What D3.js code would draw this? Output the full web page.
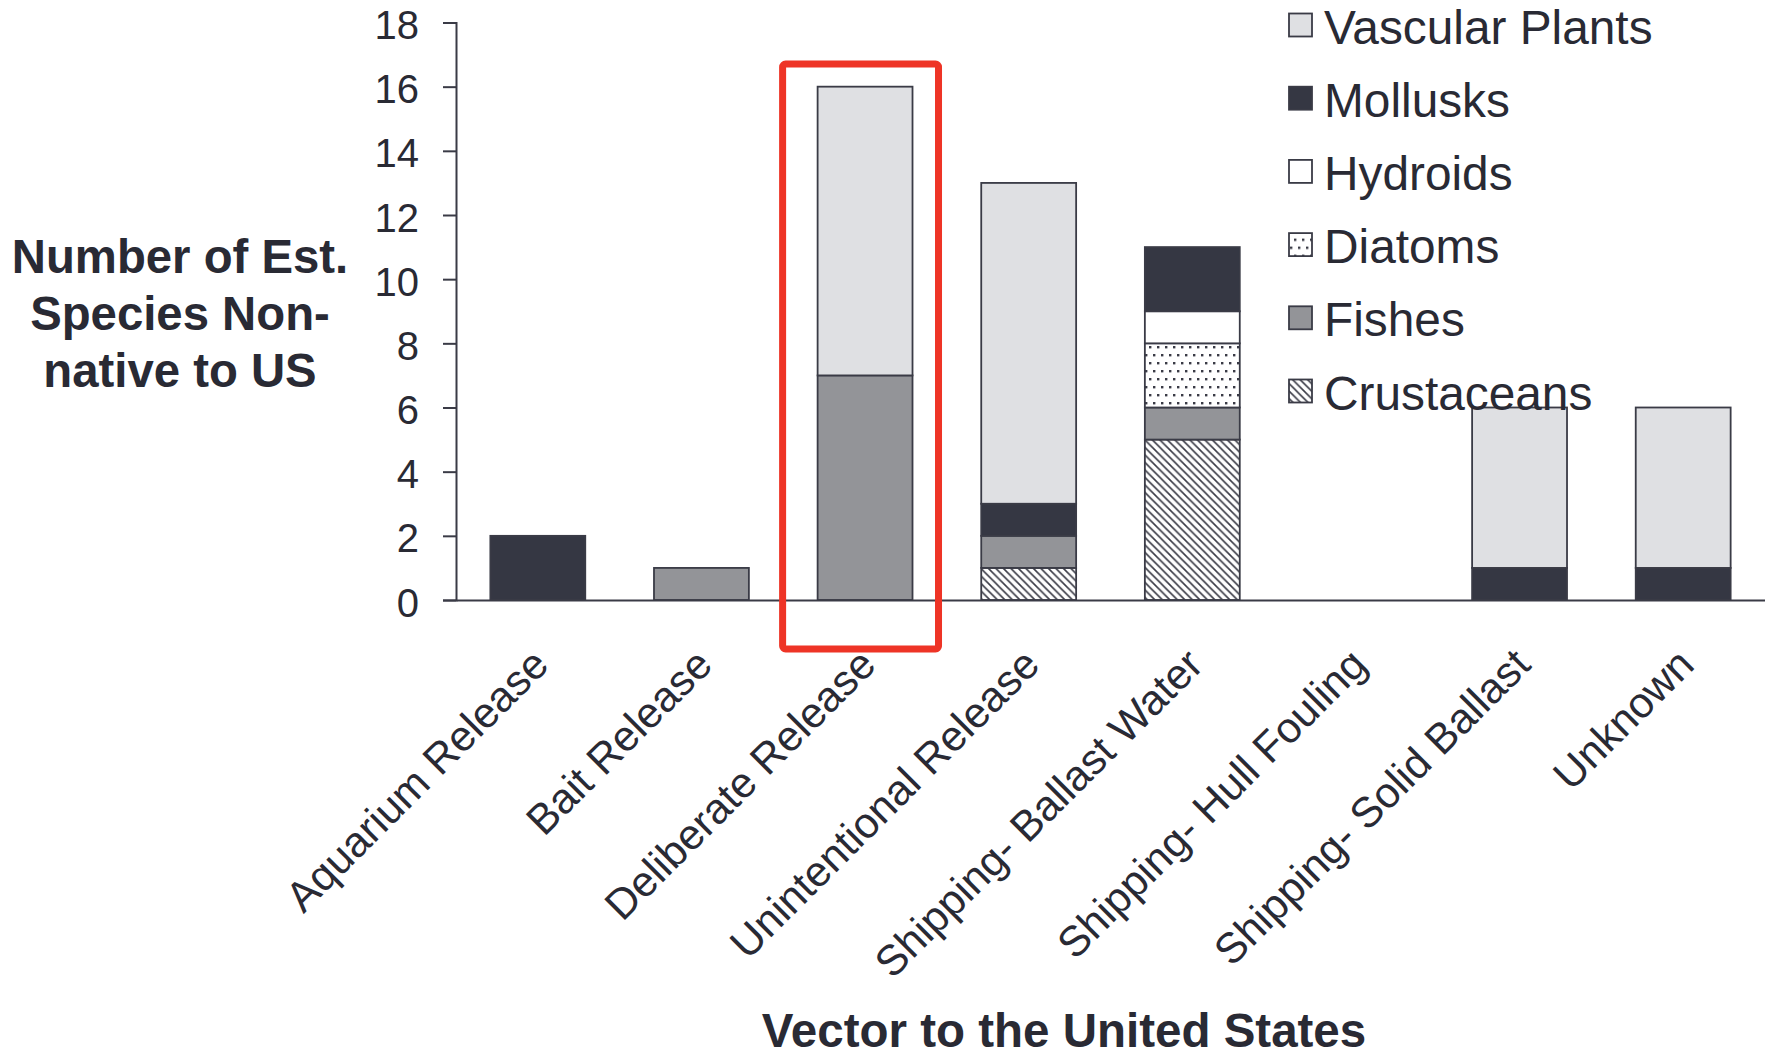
<!DOCTYPE html>
<html>
<head>
<meta charset="utf-8">
<script src="https://cdn.jsdelivr.net/npm/d3@7/dist/d3.min.js"></script>
<style>
  html, body { margin: 0; padding: 0; background: #fff; }
  svg { display: block; }
  text { font-family: "Liberation Sans", Arial, Helvetica, sans-serif; fill: #292a34; }
</style>
</head>
<body>
<svg id="chart" width="1765" height="1054"></svg>
<script>
// ---- data ----
const categories = ["Aquarium Release", "Bait Release", "Deliberate Release", "Unintentional Release",
  "Shipping- Ballast Water", "Shipping- Hull Fouling", "Shipping- Solid Ballast", "Unknown"];
const seriesNames = ["Crustaceans", "Fishes", "Diatoms", "Hydroids", "Mollusks", "Vascular Plants"];
const crustaceans    = [0, 0, 0, 1, 5, 0, 0, 0];
const fishes         = [0, 1, 7, 1, 1, 0, 0, 0];
const diatoms        = [0, 0, 0, 0, 2, 0, 0, 0];
const hydroids       = [0, 0, 0, 0, 1, 0, 0, 0];
const mollusks       = [2, 0, 0, 1, 2, 0, 1, 1];
const vascularPlants = [0, 0, 9, 10, 0, 0, 5, 5];
const yTicks = [0, 2, 4, 6, 8, 10, 12, 14, 16, 18];
const highlighted = "Deliberate Release";

const seriesValues = {
  "Crustaceans": crustaceans, "Fishes": fishes, "Diatoms": diatoms,
  "Hydroids": hydroids, "Mollusks": mollusks, "Vascular Plants": vascularPlants
};
const table = categories.map((c, i) => {
  const row = { category: c };
  seriesNames.forEach(s => row[s] = seriesValues[s][i]);
  return row;
});

// ---- layout ----
const svg = d3.select("#chart");
const ink = "#3a3b46";
const x0 = 456, x1 = 1765, yBottom = 600, yTop = 22.5;

const x = d3.scaleBand().domain(categories).range([x0, x1]).paddingInner(0.42).paddingOuter(0.21);
const y = d3.scaleLinear().domain([0, 18]).range([yBottom, yTop]);

// patterns
const defs = svg.append("defs");
const dots = defs.append("pattern").attr("id", "pat-diatoms").attr("patternUnits", "userSpaceOnUse")
  .attr("width", 8).attr("height", 16);
dots.append("rect").attr("width", 8).attr("height", 16).attr("fill", "#fff");
dots.append("rect").attr("x", 1).attr("y", 2).attr("width", 2.4).attr("height", 2.4).attr("fill", ink);
dots.append("rect").attr("x", 5).attr("y", 10).attr("width", 2.4).attr("height", 2.4).attr("fill", ink);

const hatch = defs.append("pattern").attr("id", "pat-crust").attr("patternUnits", "userSpaceOnUse")
  .attr("width", 7.5).attr("height", 7.5);
hatch.append("rect").attr("width", 7.5).attr("height", 7.5).attr("fill", "#fff");
hatch.append("path").attr("d", "M-1,-1 L8.5,8.5 M-1,6.5 L1,8.5 M6.5,-1 L8.5,1")
  .attr("stroke", ink).attr("stroke-width", 1.6);

const fills = {
  "Vascular Plants": "#dfe0e3",
  "Mollusks": "#353743",
  "Hydroids": "#ffffff",
  "Diatoms": "url(#pat-diatoms)",
  "Fishes": "#939498",
  "Crustaceans": "url(#pat-crust)"
};

// stacked bars
const stacked = d3.stack().keys(seriesNames)(table);
svg.append("g").selectAll("g").data(stacked).join("g")
  .attr("fill", d => fills[d.key])
  .selectAll("rect").data(d => d.filter(p => p[1] - p[0] > 0)).join("rect")
  .attr("x", d => x(d.data.category))
  .attr("width", x.bandwidth())
  .attr("y", d => y(d[1]))
  .attr("height", d => y(d[0]) - y(d[1]))
  .attr("stroke", ink).attr("stroke-width", 1.8);

// y axis
const yAxis = svg.append("g").attr("transform", `translate(${x0},0)`)
  .call(d3.axisLeft(y).tickValues(yTicks).tickSize(13).tickPadding(24).tickFormat(d3.format("d")));
yAxis.select(".domain").attr("stroke", ink).attr("stroke-width", 2);
yAxis.selectAll(".tick line").attr("stroke", ink).attr("stroke-width", 2);
yAxis.selectAll(".tick text").attr("font-size", 40).attr("fill", "#292a34")
  .attr("font-family", "'Liberation Sans', Arial, sans-serif").attr("dy", "0.40em");

// x axis
const xAxis = svg.append("g").attr("transform", `translate(0,${yBottom})`)
  .call(d3.axisBottom(x).tickSize(0).tickPadding(0));
xAxis.select(".domain").attr("stroke", ink).attr("stroke-width", 2);
xAxis.selectAll(".tick text")
  .attr("font-size", 42.5).attr("fill", "#292a34")
  .attr("font-family", "'Liberation Sans', Arial, sans-serif")
  .attr("text-anchor", "end").attr("dy", 0).attr("y", 0)
  .attr("transform", "translate(13,67) rotate(-45)");

// axis titles
const yTitle = svg.append("text").attr("text-anchor", "middle").attr("font-weight", "bold").attr("font-size", 47.3);
["Number of Est.", "Species Non-", "native to US"].forEach((t, i) => {
  yTitle.append("tspan").attr("x", 180).attr("y", 273 + i * 57).text(t);
});
svg.append("text").attr("x", 1064).attr("y", 1047).attr("text-anchor", "middle")
  .attr("font-weight", "bold").attr("font-size", 47.5).text("Vector to the United States");

// highlight box
svg.append("rect")
  .attr("x", x(highlighted) - 35).attr("y", 64)
  .attr("width", x.bandwidth() + 61).attr("height", 585)
  .attr("rx", 3).attr("fill", "none").attr("stroke", "#ee3426").attr("stroke-width", 7);

// legend
const legendOrder = seriesNames.slice().reverse();
const lg = svg.append("g").selectAll("g").data(legendOrder).join("g")
  .attr("transform", (d, i) => `translate(1289,${25 + i * 73.2})`);
lg.append("rect").attr("x", 0).attr("y", -11.5).attr("width", 23).attr("height", 23)
  .attr("fill", d => fills[d]).attr("stroke", ink).attr("stroke-width", 1.8);
lg.append("text").attr("x", 35).attr("y", 18.5).attr("font-size", 47.8).text(d => d);
</script>
</body>
</html>
